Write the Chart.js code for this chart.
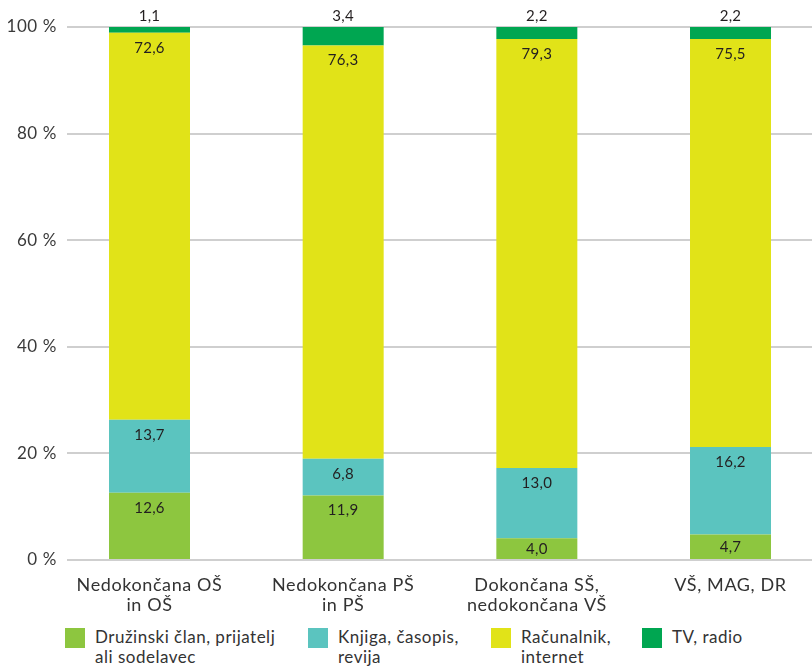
<!DOCTYPE html>
<html>
<head>
<meta charset="utf-8">
<script src="https://cdn.jsdelivr.net/npm/chart.js@4.4.1/dist/chart.umd.min.js"></script>
<style>
  html, body { margin: 0; padding: 0; background: #fff; overflow: hidden; }
  #wrap { position: absolute; left: 0; top: 0; width: 812px; height: 620px; }
  #legend { position: absolute; top: 627px; left: 0; width: 812px; height: 40px; font-family: Lato, sans-serif; font-size: 17px; letter-spacing: 0.5px; color: #333; }
  .item { position: absolute; top: 0; }
  .box { position: absolute; left: 0; top: 1px; width: 20px; height: 20px; }
  .txt { position: absolute; left: 30px; top: 0; line-height: 20px; white-space: nowrap; }
</style>
</head>
<body>
<div id="wrap"><canvas id="c"></canvas></div>
<div id="legend"></div>
<script>
const categories = [
  ["Nedokončana OŠ", "in OŠ"],
  ["Nedokončana PŠ", "in PŠ"],
  ["Dokončana SŠ,", "nedokončana VŠ"],
  ["VŠ, MAG, DR"]
];
const seriesNames = [
  ["Družinski član, prijatelj", "ali sodelavec"],
  ["Knjiga, časopis,", "revija"],
  ["Računalnik,", "internet"],
  ["TV, radio"]
];
const druzina = [12.6, 11.9, 4.0, 4.7];
const knjiga = [13.7, 6.8, 13.0, 16.2];
const racunalnik = [72.6, 76.3, 79.3, 75.5];
const tvRadio = [1.1, 3.4, 2.2, 2.2];
const yTicks = [0, 20, 40, 60, 80, 100];
const colors = ["#8DC63F", "#5BC4BF", "#E1E318", "#00A651"];
const legendLeft = [65, 308, 491, 642];

const raw = [druzina, knjiga, racunalnik, tvRadio];
const totals = categories.map((_, i) => raw.reduce((s, arr) => s + arr[i], 0));

const datasets = raw.map((arr, k) => ({
  label: seriesNames[k].join(' '),
  data: arr.map((v, i) => ({ x: i, y: v / totals[i] * 100, raw: v })),
  backgroundColor: colors[k],
  borderWidth: 0,
  grouped: false,
  maxBarThickness: 81
}));

const fmt = v => v.toFixed(1).replace('.', ',');

const spacingPlugin = {
  id: 'spacing',
  beforeLayout(chart) { chart.ctx.letterSpacing = '0.6px'; },
  beforeDraw(chart) { chart.ctx.letterSpacing = '0.6px'; }
};

const labelPlugin = {
  id: 'segLabels',
  afterDatasetsDraw(chart) {
    const ctx = chart.ctx;
    ctx.save();
    ctx.letterSpacing = '0.3px';
    ctx.font = '15px Lato, sans-serif';
    ctx.fillStyle = '#231F20';
    ctx.textAlign = 'center';
    chart.data.datasets.forEach((ds, k) => {
      const meta = chart.getDatasetMeta(k);
      meta.data.forEach((el, i) => {
        const v = ds.data[i].raw;
        const top = Math.min(el.y, el.base);
        const h = Math.abs(el.base - el.y);
        if (k === raw.length - 1) {
          ctx.textBaseline = 'bottom';
          ctx.fillText(fmt(v), el.x, top - 3);
        } else {
          ctx.textBaseline = 'middle';
          ctx.fillText(fmt(v), el.x, top + Math.min(15, h / 2));
        }
      });
    });
    ctx.restore();
  }
};

const pxPerUnit = 193.67;
new Chart(document.getElementById('c'), {
  type: 'bar',
  data: { datasets },
  plugins: [spacingPlugin, labelPlugin],
  options: {
    responsive: true,
    maintainAspectRatio: false,
    animation: false,
    layout: { padding: { top: 27, left: 0, right: 0, bottom: 0 } },
    plugins: { legend: { display: false }, tooltip: { enabled: false } },
    scales: {
      x: {
        type: 'linear',
        offset: false,
        min: -82.5 / pxPerUnit,
        max: (812 - 149.5) / pxPerUnit,
        grid: { display: false },
        border: { display: false },
        afterFit: s => { s.height = 60; },
        ticks: {
          stepSize: 1,
          includeBounds: false,
          autoSkip: false,
          maxRotation: 0,
          padding: 7,
          color: '#333',
          font: { family: 'Lato, sans-serif', size: 18, lineHeight: 1.12 },
          callback: v => (Number.isInteger(v) && categories[v]) ? categories[v] : ''
        }
      },
      y: {
        stacked: true,
        min: 0,
        max: 100,
        afterFit: s => { s.width = 67; },
        afterBuildTicks: s => { s.ticks = yTicks.map(v => ({ value: v })); },
        grid: { color: '#CFCFCF', lineWidth: 2, drawTicks: false },
        border: { display: false },
        ticks: {
          padding: 10,
          color: '#3a3a3a',
          font: { family: 'Lato, sans-serif', size: 17 },
          callback: v => v + ' %'
        }
      }
    }
  }
});

const legend = document.getElementById('legend');
seriesNames.forEach((name, k) => {
  const item = document.createElement('div');
  item.className = 'item';
  item.style.left = legendLeft[k] + 'px';
  const box = document.createElement('div');
  box.className = 'box';
  box.style.background = colors[k];
  const txt = document.createElement('div');
  txt.className = 'txt';
  txt.innerHTML = name.join('<br>');
  item.appendChild(box);
  item.appendChild(txt);
  legend.appendChild(item);
});
</script>
</body>
</html>
